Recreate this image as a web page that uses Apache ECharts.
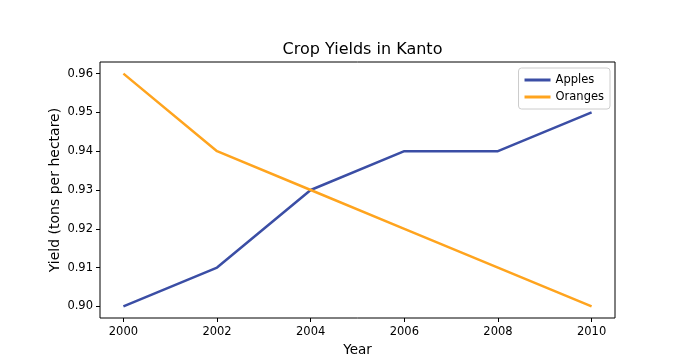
<!DOCTYPE html>
<html><head><meta charset="utf-8">
<script src="https://cdn.jsdelivr.net/npm/echarts@6/dist/echarts.min.js"></script>
<style>html,body{margin:0;padding:0;background:#fff}#c{width:678px;height:364px}</style>
</head><body><div id="c"></div>
<script>
const years = [2000, 2002, 2004, 2006, 2008, 2010];
const apples = [0.90, 0.91, 0.93, 0.94, 0.94, 0.95];
const oranges = [0.96, 0.94, 0.93, 0.92, 0.91, 0.90];
const xTicks = [2000, 2002, 2004, 2006, 2008, 2010];
const yTicks = [0.90, 0.91, 0.92, 0.93, 0.94, 0.95, 0.96];
const font = 'DejaVu Sans';
const chart = echarts.init(document.getElementById('c'));
chart.setOption({
  animation: false,
  title: { text: 'Crop Yields in Kanto', left: 357.5, top: 37, textAlign: 'center',
    textStyle: { fontFamily: font, fontSize: 16, fontWeight: 'normal', color: '#000' } },
  legend: { orient: 'vertical', right: 68, top: 68, padding: [6, 6, 6, 6],
    borderColor: '#ccc', borderWidth: 1, borderRadius: 3, itemGap: 5,
    icon: 'rect', itemWidth: 26, itemHeight: 3,
    textStyle: { fontFamily: font, fontSize: 11.5, color: '#000' },
    data: ['Apples', 'Oranges'] },
  grid: { left: 100, right: 63, top: 62, bottom: 46, show: true, borderColor: '#000', borderWidth: 1 },
  xAxis: { type: 'value', min: 1999.5, max: 2010.5,
    name: 'Year', nameLocation: 'middle', nameGap: 25,
    nameTextStyle: { fontFamily: font, fontSize: 13.5, color: '#000' },
    axisLine: { show: false }, splitLine: { show: false },
    axisTick: { show: true, length: 4, lineStyle: { color: '#000' }, customValues: xTicks },
    axisLabel: { fontFamily: font, fontSize: 11.5, color: '#000', margin: 8, customValues: xTicks,
      formatter: v => String(v) } },
  yAxis: { type: 'value', min: 0.897, max: 0.963,
    name: 'Yield (tons per hectare)', nameLocation: 'middle', nameGap: 38, nameMoveOverlap: false,
    nameTextStyle: { fontFamily: font, fontSize: 14, color: '#000' },
    axisLine: { show: false }, splitLine: { show: false },
    axisTick: { show: true, length: 4, lineStyle: { color: '#000' }, customValues: yTicks },
    axisLabel: { fontFamily: font, fontSize: 11.5, color: '#000', margin: 7, customValues: yTicks,
      formatter: v => v.toFixed(2) } },
  series: [
    { name: 'Apples', type: 'line', data: years.map((y, i) => [y, apples[i]]),
      showSymbol: false, lineStyle: { width: 2.5, color: '#3b4ea5' }, itemStyle: { color: '#3b4ea5' } },
    { name: 'Oranges', type: 'line', data: years.map((y, i) => [y, oranges[i]]),
      showSymbol: false, lineStyle: { width: 2.5, color: '#ffa41e' }, itemStyle: { color: '#ffa41e' } }
  ]
});
</script></body></html>
